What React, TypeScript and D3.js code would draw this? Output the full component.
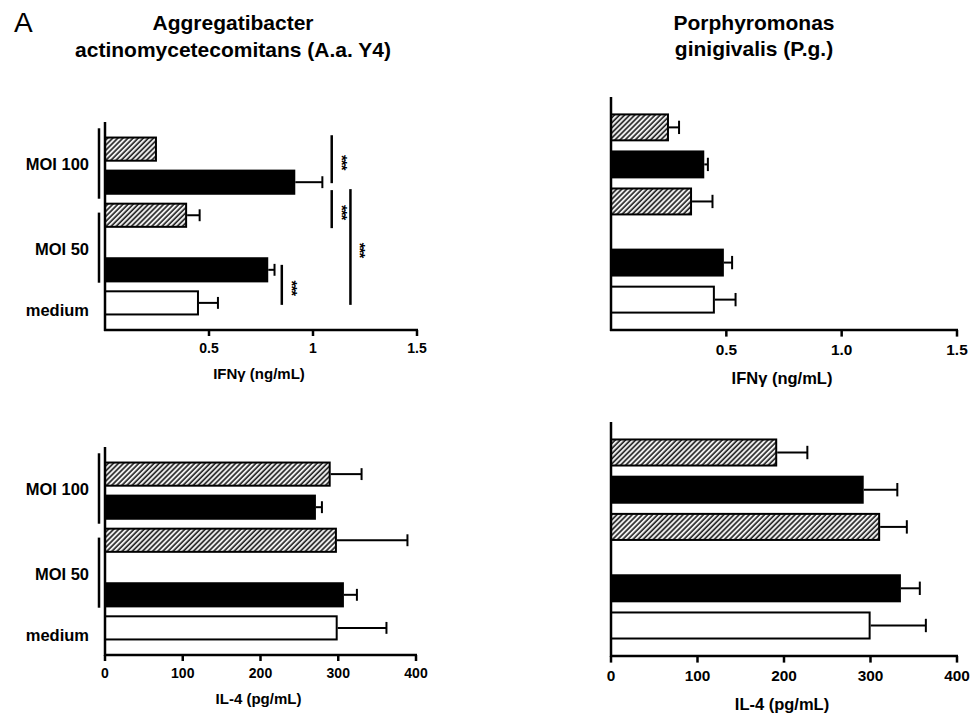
import { useEffect } from 'react';
import * as d3 from 'd3';

// Row order, top to bottom (same in every panel)
const ROWS = ['MOI 100 (hatched)', 'MOI 100 (black)', 'MOI 50 (hatched)', 'MOI 50 (black)', 'medium'];
const ROW_FILL = ['url(#hatch)', '#000', 'url(#hatch)', '#000', '#fff'];
// slot index of each row; the MOI 50 group has a wider gap inside it
const ROW_SLOT = [0, 1, 2, 3.65, 4.65];

// IFN-gamma (ng/mL)
const AA_IFN_MEAN = [0.245, 0.91, 0.39, 0.78, 0.447];
const AA_IFN_SEM = [0, 0.135, 0.065, 0.035, 0.096];
const PG_IFN_MEAN = [0.247, 0.4, 0.347, 0.485, 0.446];
const PG_IFN_SEM = [0.048, 0.02, 0.093, 0.04, 0.094];

// IL-4 (pg/mL)
const AA_IL4_MEAN = [289, 270, 297, 306, 298];
const AA_IL4_SEM = [41, 9, 92, 18, 64];
const PG_IL4_MEAN = [191, 291, 310, 334, 299];
const PG_IL4_SEM = [36, 40, 32, 23, 65];

const IFN_TICKS = [0.5, 1, 1.5];
const IL4_TICKS = [0, 100, 200, 300, 400];

// group labels on the left panels: [label, bracket start slot, bracket end slot, label slot]
const GROUPS: [string, number | null, number | null, number][] = [
  ['MOI 100', -0.63, 1.5, 0.45],
  ['MOI 50', 1.92, 4.04, 3.02],
  ['medium', null, null, 4.88],
];

// significance lines (A.a. IFN panel): [from slot, to slot, x in ng/mL, label]
const AA_IFN_SIG: [number, number, number, string][] = [
  [-0.42, 1.03, 1.09, '***'],
  [1.24, 2.39, 1.09, '***'],
  [1.21, 4.71, 1.18, '***'],
  [3.5, 4.71, 0.85, '***'],
];

const FONT = '"Liberation Sans", Arial, Helvetica, sans-serif';

type PanelProps = {
  left: number; right: number; top: number; bottom: number;
  max: number; ticks: number[]; fmt: (d: number) => string;
  mean: number[]; sem: number[]; title: string; k: number;
  groups?: boolean; sig?: [number, number, number, string][];
};

function Panel({ left, right, top, bottom, max, ticks, fmt, mean, sem, title, k, groups, sig }: PanelProps) {
  const x = d3.scaleLinear().domain([0, max]).range([left, right]);
  const y = d3.scaleLinear().domain([-0.82, 5.47]).range([top, bottom]);
  const step = y(1) - y(0);
  const barH = step * 0.7;
  const capH = step * 0.18;
  const axisW = 2.5;

  return (
    <g fontFamily={FONT}>
      {ROWS.map((r, i) => {
        const cy = y(ROW_SLOT[i]);
        const xe = x(mean[i] + sem[i]);
        return (
          <g key={r}>
            <rect x={x(0)} y={cy - barH / 2} width={x(mean[i]) - x(0)} height={barH}
              fill={ROW_FILL[i]} stroke="#000" strokeWidth={2} />
            {sem[i] > 0 && (
              <g stroke="#000" strokeWidth={2}>
                <line x1={x(mean[i]) + 1} x2={xe} y1={cy} y2={cy} />
                <line x1={xe} x2={xe} y1={cy - capH} y2={cy + capH} />
              </g>
            )}
          </g>
        );
      })}

      {/* axes */}
      <line x1={left} x2={left} y1={top} y2={bottom + 1} stroke="#000" strokeWidth={axisW} />
      <line x1={left - 1} x2={right + 1} y1={bottom} y2={bottom} stroke="#000" strokeWidth={axisW} />
      {ticks.map((t) => (
        <g key={t}>
          <line x1={x(t)} x2={x(t)} y1={bottom} y2={bottom + 6 * k} stroke="#000" strokeWidth={axisW} />
          <text x={x(t)} y={bottom + 23 * k} textAnchor="middle" fontWeight="bold" fontSize={14 * k}>
            {fmt(t)}
          </text>
        </g>
      ))}
      <text x={(left + right) / 2 - 2} y={bottom + 49 * k} textAnchor="middle" fontWeight="bold" fontSize={15 * k}>
        {title}
      </text>

      {groups && GROUPS.map(([label, s0, s1, at]) => (
        <g key={label}>
          {s0 !== null && s1 !== null && (
            <line x1={left - 6} x2={left - 6} y1={y(s0)} y2={y(s1)} stroke="#000" strokeWidth={2.5} />
          )}
          <text x={left - 16} y={y(at)} dy="0.36em" textAnchor="end" fontWeight="bold" fontSize={16.5}>
            {label}
          </text>
        </g>
      ))}

      {sig && sig.map(([s0, s1, v, label], i) => (
        <g key={i}>
          <line x1={x(v)} x2={x(v)} y1={y(s0)} y2={y(s1)} stroke="#000" strokeWidth={2.5} />
          <text transform={`translate(${x(v) + 5},${(y(s0) + y(s1)) / 2 + 3}) rotate(90)`}
            textAnchor="middle" fontWeight="bold" fontSize={15} letterSpacing={-1}>
            {label}
          </text>
        </g>
      ))}
    </g>
  );
}

export default function App() {
  useEffect(() => {
    document.body.style.margin = '0';
  }, []);

  const fmtPlain = (d: number) => String(d);
  const fmtOne = d3.format('.1f');

  return (
    <svg width={973} height={713} style={{ position: 'absolute', left: 0, top: 0, background: '#fff' }}>
      <defs>
        <pattern id="hatch" patternUnits="userSpaceOnUse" width={3.6} height={3.6} patternTransform="rotate(45)">
          <rect width={3.6} height={3.6} fill="#eeeeee" />
          <line x1={1} y1={0} x2={1} y2={3.6} stroke="#222" strokeWidth={1.6} />
        </pattern>
      </defs>
      <rect width={973} height={713} fill="#fff" />

      <g fontFamily={FONT} fill="#000">
        <text x={14} y={32} fontSize={28}>A</text>
        <text x={233} y={30} textAnchor="middle" fontWeight="bold" fontSize={21}>Aggregatibacter</text>
        <text x={233} y={57} textAnchor="middle" fontWeight="bold" fontSize={21}>actinomycetecomitans (A.a. Y4)</text>
        <text x={754} y={30} textAnchor="middle" fontWeight="bold" fontSize={21}>Porphyromonas</text>
        <text x={754} y={56} textAnchor="middle" fontWeight="bold" fontSize={21}>ginigivalis (P.g.)</text>
      </g>

      <Panel left={105} right={417} top={122} bottom={330} max={1.5} ticks={IFN_TICKS} fmt={fmtPlain}
        mean={AA_IFN_MEAN} sem={AA_IFN_SEM} title="IFNγ (ng/mL)" k={1} groups sig={AA_IFN_SIG} />
      <Panel left={611} right={957} top={97} bottom={330} max={1.5} ticks={IFN_TICKS} fmt={fmtOne}
        mean={PG_IFN_MEAN} sem={PG_IFN_SEM} title="IFNγ (ng/mL)" k={1.1} />
      <Panel left={105} right={416} top={447} bottom={655} max={400} ticks={IL4_TICKS} fmt={fmtPlain}
        mean={AA_IL4_MEAN} sem={AA_IL4_SEM} title="IL-4 (pg/mL)" k={1} groups />
      <Panel left={611} right={957} top={422} bottom={656} max={400} ticks={IL4_TICKS} fmt={fmtPlain}
        mean={PG_IL4_MEAN} sem={PG_IL4_SEM} title="IL-4 (pg/mL)" k={1.1} />
    </svg>
  );
}
